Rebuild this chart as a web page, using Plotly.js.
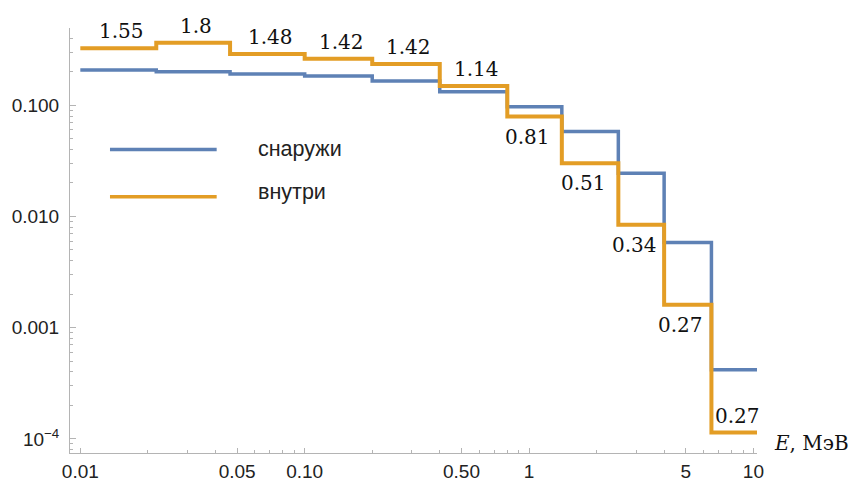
<!DOCTYPE html>
<html>
<head>
<meta charset="utf-8">
<script src="https://cdn.plot.ly/plotly-3.0.1.min.js"></script>
<style>html,body{margin:0;padding:0;background:#fff;}#chart{width:851px;height:481px;}</style>
</head>
<body>
<div id="chart"></div>
<script>
// Energy bin edges, MeV
const edges = [0.01, 0.0218, 0.0465, 0.1, 0.2, 0.4, 0.8, 1.4, 2.5, 4, 6.5, 10.5];
// Values per bin
const outside = [0.2075, 0.2004, 0.191, 0.183, 0.1653, 0.1325, 0.0971, 0.058, 0.0245, 0.00583, 0.000419];
const inside  = [0.325, 0.365, 0.289, 0.262, 0.235, 0.149, 0.079, 0.0301, 0.00841, 0.00161, 0.000114];
const ratioLabels = ['1.55', '1.8', '1.48', '1.42', '1.42', '1.14', '0.81', '0.51', '0.34', '0.27', '0.27'];
const seriesNames = ['снаружи', 'внутри'];
const xTickVals = [0.01, 0.05, 0.1, 0.5, 1, 5, 10];
const xTickText = ['0.01', '0.05', '0.10', '0.50', '1', '5', '10'];
const yTickVals = [0.1, 0.01, 0.001, 0.0001];
const yTickText = ['0.100', '0.010', '0.001', '10<sup>−4</sup>'];

const BLUE = '#5E81B5', ORANGE = '#E39D25', AXIS = '#b4b4b4';

function stepY(v) { return v.concat([v[v.length - 1]]); }

const traces = [
  {x: edges, y: stepY(outside), type: 'scatter', mode: 'lines', line: {shape: 'hv', color: BLUE, width: 3.5}, name: seriesNames[0], showlegend: false, hoverinfo: 'skip'},
  {x: edges, y: stepY(inside), type: 'scatter', mode: 'lines', line: {shape: 'hv', color: ORANGE, width: 4}, name: seriesNames[1], showlegend: false, hoverinfo: 'skip'}
];

function minorVals(lo, hi, majors) {
  const out = [];
  for (let d = -6; d <= 2; d++) for (let m = 1; m <= 9; m++) {
    const v = m * Math.pow(10, d);
    const lv = Math.log10(v);
    if (lv >= lo && lv <= hi && !majors.some(t => Math.abs(Math.log10(t) - lv) < 1e-6)) out.push(v);
  }
  return out;
}
const xRange = [-2.046, 1.016];
const yRange = [-4.127, -0.3055];

const annotations = ratioLabels.map((t, i) => {
  const below = i >= 6 && i <= 9;
  return {
    x: (Math.log10(edges[i]) + Math.log10(edges[i + 1])) / 2,
    y: Math.log10(inside[i]),
    xref: 'x', yref: 'y', text: t, showarrow: false,
    xanchor: 'center', yanchor: 'middle',
    yshift: below ? -20 : 17, xshift: below ? -7 : 3,
    font: {family: 'DejaVu Serif, Liberation Serif, serif', size: 20, color: '#111'}
  };
});
// axis label
annotations.push({xref: 'paper', yref: 'paper', x: 1.022, y: 0.024, xanchor: 'left', yanchor: 'middle', showarrow: false,
  text: '<i>E</i>, МэВ', font: {family: 'DejaVu Serif, Liberation Serif, serif', size: 20, color: '#111'}});
// legend
const legY = [0.714, 0.603];
const legTextY = [0.716, 0.613];
const legColors = [BLUE, ORANGE];
const shapes = [];
seriesNames.forEach((n, i) => {
  shapes.push({type: 'line', xref: 'paper', yref: 'paper', x0: 0.0582, x1: 0.2135, y0: legY[i], y1: legY[i], line: {color: legColors[i], width: 3.5}});
  annotations.push({xref: 'paper', yref: 'paper', x: 0.2705, y: legTextY[i], xanchor: 'left', yanchor: 'middle', showarrow: false,
    text: n, font: {family: 'Liberation Sans, Arial, sans-serif', size: 21.5, color: '#222'}});
});

const axisCommon = {
  showgrid: false, zeroline: false, showline: true, linecolor: AXIS, linewidth: 1,
  ticks: 'inside', ticklen: 5, tickcolor: AXIS, tickwidth: 1,
  tickfont: {family: 'Liberation Sans, Arial, sans-serif', size: 19, color: '#222'},
  automargin: false, tickmode: 'array', fixedrange: true
};

const layout = {
  width: 851, height: 481,
  margin: {l: 70, r: 94, t: 28, b: 28},
  paper_bgcolor: '#fff', plot_bgcolor: '#fff',
  xaxis: Object.assign({}, axisCommon, {type: 'log', range: xRange, tickvals: xTickVals, ticktext: xTickText, ticklabelstandoff: 1,
    minor: {tickmode: 'array', tickvals: minorVals(xRange[0], xRange[1], xTickVals), ticks: 'inside', ticklen: 3, tickcolor: AXIS}}),
  yaxis: Object.assign({}, axisCommon, {type: 'log', range: yRange, tickvals: yTickVals, ticktext: yTickText, ticklabelstandoff: 6, ticklen: 6,
    minor: {tickmode: 'array', tickvals: minorVals(yRange[0], yRange[1], yTickVals), ticks: 'inside', ticklen: 3, tickcolor: AXIS}}),
  annotations: annotations,
  shapes: shapes,
  showlegend: false
};

Plotly.newPlot('chart', traces, layout, {displayModeBar: false, staticPlot: true});
</script>
</body>
</html>
